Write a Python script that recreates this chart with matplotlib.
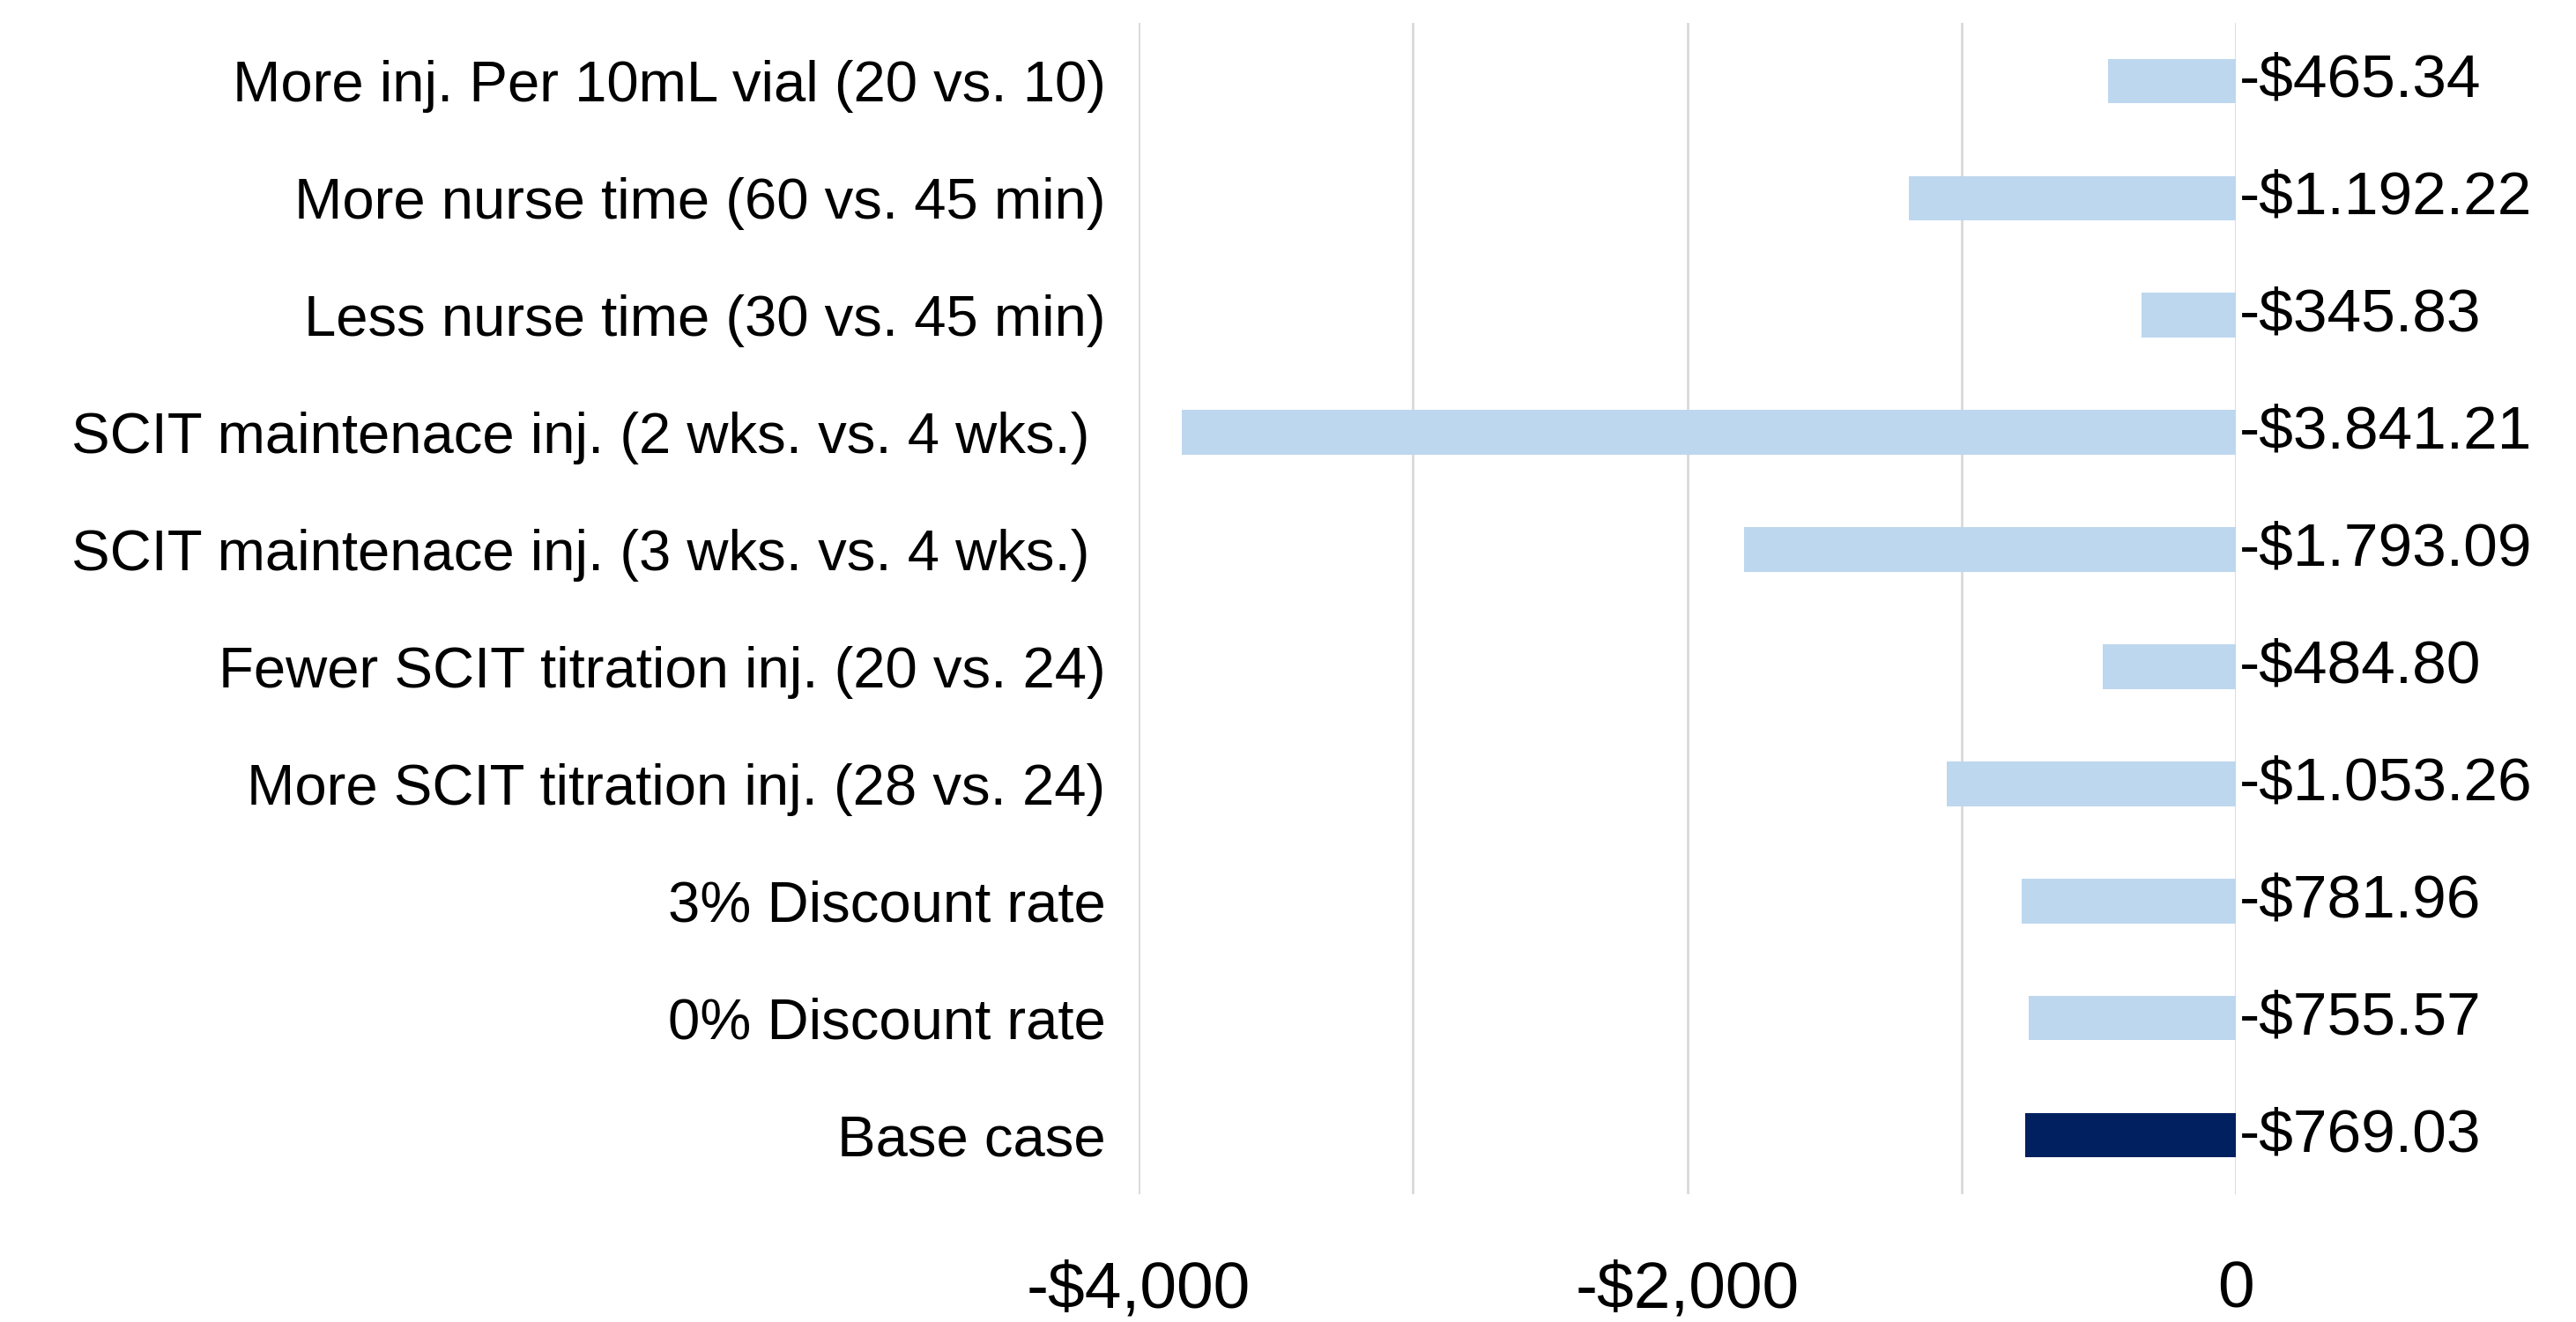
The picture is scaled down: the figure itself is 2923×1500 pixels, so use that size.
import matplotlib.pyplot as plt
from matplotlib.ticker import FixedLocator, FuncFormatter

plt.rcParams['font.family'] = ['Liberation Sans', 'DejaVu Sans']

# scenario labels, top to bottom
scenarios = [
    'More inj. Per 10mL vial (20 vs. 10)',
    'More nurse time (60 vs. 45 min)',
    'Less nurse time (30 vs. 45 min)',
    'SCIT maintenace inj. (2 wks. vs. 4 wks.) ',
    'SCIT maintenace inj. (3 wks. vs. 4 wks.) ',
    'Fewer SCIT titration inj. (20 vs. 24)',
    'More SCIT titration inj. (28 vs. 24)',
    '3% Discount rate',
    '0% Discount rate',
    'Base case',
]
savings = [-465.34, -1192.22, -345.83, -3841.21, -1793.09,
           -484.80, -1053.26, -781.96, -755.57, -769.03]
colors = ['#BDD7EE'] * 9 + ['#002060']

fig = plt.figure(figsize=(29.23, 15), dpi=100)
ax = fig.add_axes([0.442, 0.097, 0.426, 0.886])

ypos = list(range(len(scenarios)))[::-1]
ax.barh(ypos, savings, height=0.38, color=colors, zorder=3)

for y, v in zip(ypos, savings):
    txt = '-$' + f'{abs(v):,.2f}'.replace(',', '.')
    ax.text(12, y, txt, va='center', ha='left', fontsize=50, color='black')

ax.set_xlim(-4000, 0)
ax.set_ylim(-0.5, len(scenarios) - 0.5)
ax.set_yticks(ypos)
ax.set_yticklabels(scenarios, fontsize=47)

ax.xaxis.set_major_locator(FixedLocator([-4000, -2000, 0]))
ax.xaxis.set_minor_locator(FixedLocator([-3000, -1000]))
ax.xaxis.set_major_formatter(FuncFormatter(
    lambda v, p: '0' if v == 0 else f'-${abs(v):,.0f}'))
ax.tick_params(axis='x', which='both', length=0, labelsize=54, pad=54)
ax.tick_params(axis='y', length=0, pad=27)
ax.grid(axis='x', which='both', color='#D9D9D9', linewidth=2, zorder=0)

for s in ax.spines.values():
    s.set_visible(False)

fig.savefig('out.png', dpi=100)
